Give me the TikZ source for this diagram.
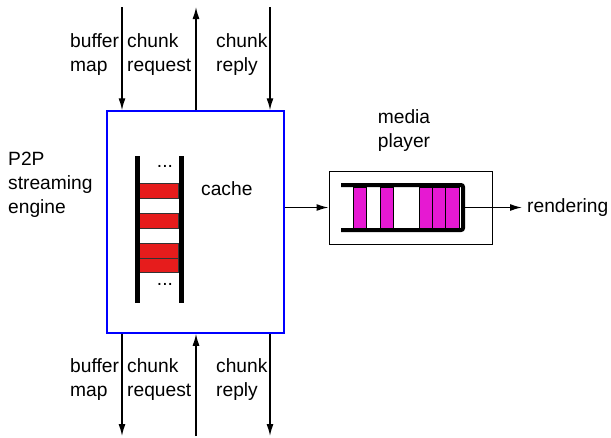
\documentclass[tikz,border=0pt]{standalone}
\usepackage{fontspec}
\setmainfont{Liberation Sans}
\usetikzlibrary{arrows.meta}
\definecolor{rungred}{RGB}{230,28,28}
\definecolor{slotmag}{RGB}{230,25,210}
\begin{document}
\begin{tikzpicture}[x=1pt,y=-1pt,
  lbl/.style={inner sep=0pt,anchor=base west,align=left,font=\fontsize{19.2}{24}\selectfont},
  flow/.style={line width=1.4pt,-{Latex[length=12pt,width=7pt]}},
  rail/.style={line width=5pt},
  rung/.style={fill=rungred,draw=black!80,line width=0.8pt},
  slot/.style={fill=slotmag,draw=black,line width=0.8pt}]
\useasboundingbox (0,0) rectangle (611,437);
% main engine box
\node[draw=blue,line width=1.5pt,minimum width=177pt,minimum height=222pt,inner sep=0pt] (engine) at (195.5,222) {};
% media player box
\node[draw=black,line width=1pt,minimum width=163pt,minimum height=73pt,inner sep=0pt] (player) at (410.5,207.5) {};
% labels (base = baseline of last line)
\node[lbl] (p2p) at (8,213) {P2P\\streaming\\engine};
\node[lbl] (bmt) at (70,71) {buffer\\map};
\node[lbl] (crqt) at (127,71) {chunk\\request};
\node[lbl] (crpt) at (216,71) {chunk\\reply};
\node[lbl] (bmb) at (70,396) {buffer\\map};
\node[lbl] (crqb) at (127,396) {chunk\\request};
\node[lbl] (crpb) at (216,396) {chunk\\reply};
\node[lbl] (cache) at (201,195) {cache};
\node[lbl,align=center,anchor=base] (mp) at (404,147) {media\\player};
\node[lbl] (render) at (527,212) {rendering};
% top/bottom free ends
\coordinate (t1) at (122,7);
\coordinate (t2) at (196,7);
\coordinate (t3) at (270,7);
\coordinate (b1) at (122,436);
\coordinate (b2) at (196,436);
\coordinate (b3) at (270,436);
\draw[flow] (t1) -- (engine.north -| t1);
\draw[flow] (engine.north -| t2) -- (t2);
\draw[flow] (t3) -- (engine.north -| t3);
\draw[flow] (engine.south -| b1) -- (b1);
\draw[flow] (b2) -- (engine.south -| b2);
\draw[flow] (engine.south -| b3) -- (b3);
% ladder cache
\draw[rung] (139.5,183) rectangle (178.5,198);
\draw[rung] (139.5,213) rectangle (178.5,228);
\draw[rung] (139.5,243) rectangle (178.5,258);
\draw[rung] (139.5,258) rectangle (178.5,272);
\draw[rail] (137,156) -- (137,303);
\draw[rail] (181,156) -- (181,303);
\node[lbl,anchor=base] (dtop) at (165,167) {...};
\node[lbl,anchor=base] (dbot) at (165,285) {...};
% buffer in media player
\draw[slot] (353,187) rectangle (366,228);
\draw[slot] (380,187) rectangle (393,228);
\draw[slot] (419,187) rectangle (432,228);
\draw[slot] (432,187) rectangle (445,228);
\draw[slot] (445,187) rectangle (459,228);
\draw[line width=4pt,rounded corners=2pt] (341,185) -- (463,185) -- (463,230) -- (341,230);
\coordinate (bufend) at (465,207.5);
% connections
\draw[flow] (engine.east |- player.west) -- (player.west);
\draw[flow,shorten >=5pt] (bufend) -- (render.west |- bufend);
\end{tikzpicture}
\end{document}
